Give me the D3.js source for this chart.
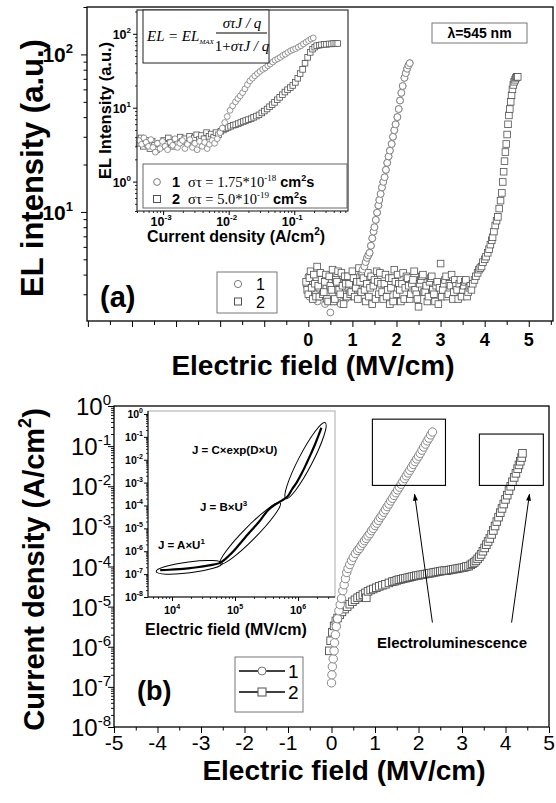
<!DOCTYPE html>
<html><head><meta charset="utf-8">
<script src="https://cdn.jsdelivr.net/npm/d3@7"></script>
<style>
body{margin:0;background:#fff;}
svg{display:block;font-family:"Liberation Sans",Arial,sans-serif;}
</style></head><body>
<svg id="chart" width="556" height="803"></svg>
<script>
// ================= DATA =================
// ---- panel (a): EL intensity vs electric field ----
const aFieldTicks = [0, 1, 2, 3, 4, 5];
const aElTicks = [10, 100];
const aElTickExp = ["1", "2"];
const aSeries1 = [ // circles: [field MV/cm, EL a.u.]
 [-0.04,3.4],[0.0,3.9],[0.02,2.9],[0.04,3.6],[0.07,3.1],[0.09,4.0],[0.11,2.8],[0.14,3.5],[0.16,3.0],[0.18,3.8],
 [0.21,2.7],[0.23,3.3],[0.26,4.1],[0.28,2.9],[0.31,3.5],[0.33,3.0],[0.36,3.7],[0.38,2.6],[0.41,3.3],[0.43,3.9],
 [0.46,2.8],[0.48,3.4],[0.5,2.3],[0.53,3.6],[0.55,3.0],[0.58,3.8],[0.6,2.7],[0.63,3.2],[0.65,4.0],[0.68,2.9],
 [0.7,3.5],[0.73,2.6],[0.75,3.4],[0.78,3.9],[0.8,3.0],[0.83,3.6],[0.85,2.8],[0.88,3.3],[0.9,3.8],[0.93,3.1],
 [0.95,3.6],[0.98,2.9],[1.0,3.4],[1.03,3.7],[1.05,3.2],[1.08,3.5],[1.1,3.3],[1.13,3.7],
 [1.16,3.9],[1.2,4.1],[1.23,4.3],[1.27,4.5],[1.3,4.8],[1.33,5.1],[1.36,5.3],[1.39,5.5],[1.42,6.1],[1.45,6.8],
 [1.48,7.5],[1.5,8.0],[1.53,8.9],[1.56,9.9],[1.59,11.0],[1.61,11.9],[1.64,13.0],[1.67,14.3],[1.7,15.5],[1.73,16.6],
 [1.76,18.5],[1.79,20.5],[1.82,22.5],[1.85,24.5],[1.89,27],[1.92,30],[1.95,33],[1.98,36],[2.02,40],[2.05,45],
 [2.08,51],[2.11,57],[2.14,63],[2.18,71],[2.21,76],[2.24,81],[2.27,85],[2.3,88]
];
const aSeries2 = [ // squares: [field MV/cm, EL a.u.]
 [-0.05,3.6],[-0.025,3.2],[0.0,3.0],[0.025,3.8],[0.05,4.2],[0.075,3.3],[0.1,2.8],[0.125,4.0],[0.15,3.5],[0.175,2.9],
 [0.2,4.5],[0.225,3.4],[0.25,2.9],[0.275,4.1],[0.3,3.7],[0.325,3.0],[0.35,3.1],[0.375,3.6],[0.4,4.0],[0.425,2.8],
 [0.45,2.7],[0.475,3.9],[0.5,3.4],[0.525,3.2],[0.55,4.3],[0.575,2.7],[0.6,2.8],[0.625,3.7],[0.65,3.6],[0.675,4.2],
 [0.7,3.2],[0.725,3.0],[0.75,4.1],[0.775,3.4],[0.8,2.6],[0.825,3.9],[0.85,3.5],[0.875,2.9],[0.9,3.9],[0.925,3.5],
 [0.95,3.0],[0.975,3.1],[1.0,4.2],[1.025,3.8],[1.05,2.9],[1.075,3.3],[1.1,3.6],[1.125,2.8],[1.15,4.4],[1.175,3.6],
 [1.2,3.1],[1.225,4.0],[1.25,3.8],[1.275,3.2],[1.3,2.7],[1.325,3.5],[1.35,4.1],[1.375,2.9],[1.4,3.3],[1.425,3.9],
 [1.45,2.6],[1.475,3.4],[1.5,3.7],[1.525,2.8],[1.55,4.2],[1.575,3.6],[1.6,3.0],[1.625,4.1],[1.65,3.5],[1.675,3.1],
 [1.7,2.8],[1.725,3.5],[1.75,4.0],[1.775,2.9],[1.8,3.2],[1.825,3.8],[1.85,2.6],[1.875,3.3],[1.9,3.8],[1.925,2.7],
 [1.95,4.3],[1.975,3.6],[2.0,3.0],[2.025,4.0],[2.05,3.5],[2.075,3.2],[2.1,2.7],[2.125,3.5],[2.15,4.1],[2.175,2.8],
 [2.2,3.3],[2.225,3.9],[2.25,3.8],[2.275,3.4],[2.3,2.8],[2.325,3.0],[2.35,3.5],[2.375,3.7],[2.4,4.2],[2.425,3.2],
 [2.45,3.0],[2.475,2.8],[2.5,2.5],[2.525,3.5],[2.55,3.7],[2.575,3.9],[2.6,4.0],[2.625,3.1],[2.65,3.1],[2.675,3.4],
 [2.7,2.7],[2.725,2.9],[2.75,3.6],[2.775,3.8],[2.8,3.9],[2.825,3.2],[2.85,3.0],[2.875,2.7],[2.9,3.4],[2.925,3.6],
 [2.95,2.6],[2.975,3.3],[3.0,4.7],[3.025,2.9],[3.05,3.2],[3.075,3.5],[3.1,3.7],[3.125,3.9],[3.15,2.9],[3.175,3.0],
 [3.2,3.5],[3.225,3.4],[3.25,4.0],[3.275,2.8],[3.3,3.1],[3.325,3.7],[3.35,3.4],[3.375,3.2],[3.4,2.8],[3.425,3.5],
 [3.45,3.7],[3.475,2.9],[3.5,3.2],[3.525,3.4],[3.55,3.6],[3.575,3.7],[3.6,2.9],[3.625,3.1],[3.65,3.3],[3.675,3.4],
 [3.7,3.2],[3.73,3.5],[3.77,3.7],[3.8,3.9],[3.84,4.1],[3.87,4.3],[3.9,4.4],[3.93,4.5],[3.96,4.8],[4.0,5.0],
 [4.03,5.2],[4.07,5.5],[4.1,5.8],[4.13,6.2],[4.16,6.6],[4.18,6.9],[4.21,7.5],[4.24,8.2],[4.27,8.8],[4.3,9.3],
 [4.33,10.5],[4.36,11.8],[4.39,13.2],[4.41,15.5],[4.43,18],[4.45,21],[4.47,24],[4.49,27],[4.51,31],[4.53,36],
 [4.55,41],[4.57,45],[4.59,50],[4.61,55],[4.63,60],[4.65,64],[4.67,67],[4.69,69],[4.71,71],[4.73,72],[4.75,72]
];
const aLegendLabels = ["1", "2"];
const aWavelength = "λ=545 nm";

// ---- inset (a): EL intensity vs current density ----
const aInsetJTicks = [1e-3, 1e-2, 1e-1];
const aInsetJTickExp = ["-3", "-2", "-1"];
const aInsetElTicks = [1, 10, 100];
const aInsetElTickExp = ["0", "1", "2"];
const aInset1 = [ // circles: [J A/cm2, EL]
 [4.3e-4,3.6],[4.7e-4,3.2],[5.1e-4,3.9],[5.5e-4,3.4],[6e-4,3.0],[6.5e-4,3.7],[7e-4,2.9],[7.6e-4,2.5],[8.2e-4,3.3],[9e-4,2.8],
 [9.8e-4,3.5],[1.07e-3,3.0],[1.17e-3,2.7],[1.28e-3,3.4],[1.4e-3,3.1],[1.52e-3,3.8],[1.66e-3,2.9],[1.8e-3,3.3],[1.97e-3,3.6],[2.15e-3,2.8],
 [2.35e-3,3.2],[2.56e-3,3.7],[2.8e-3,2.9],[3.05e-3,3.3],[3.3e-3,2.7],[3.6e-3,3.5],[3.95e-3,3.0],[4.3e-3,3.4],[4.7e-3,2.8],[5.1e-3,3.2],
 [5.6e-3,3.6],[6.1e-3,3.3],[6.7e-3,3.8],
 [7.4e-3,4.6],[8e-3,5.3],[8.7e-3,6.3],[9.5e-3,7.6],[1.05e-2,9.2],[1.15e-2,10.6],[1.27e-2,12],[1.38e-2,13.3],[1.5e-2,14.5],[1.63e-2,16],
 [1.77e-2,18],[1.93e-2,20.5],[2.1e-2,23],[2.3e-2,25],[2.5e-2,27],[2.75e-2,29],[3e-2,31],[3.3e-2,33],[3.6e-2,34.5],[3.95e-2,37],
 [4.3e-2,39],[4.7e-2,41.5],[5.1e-2,44],[5.6e-2,46],[6.1e-2,48],[6.7e-2,51],[7.3e-2,53],[8e-2,56],[8.8e-2,59],[9.6e-2,61],
 [0.105,63],[0.115,66],[0.126,69],[0.138,73],[0.151,77],[0.165,81],[0.18,85],[0.195,88]
];
const aInset2 = [ // squares: [J A/cm2, EL]
 [4.3e-4,3.3],[4.6e-4,3.9],[5e-4,3.0],[5.4e-4,3.6],[5.8e-4,3.2],[6.3e-4,2.8],[6.8e-4,3.5],[7.4e-4,3.1],[8e-4,2.7],[8.7e-4,3.3],
 [9.4e-4,3.0],[1.02e-3,3.6],[1.1e-3,3.2],[1.2e-3,3.9],[1.3e-3,3.4],[1.42e-3,3.0],[1.54e-3,3.7],[1.67e-3,3.3],[1.82e-3,4.0],[1.97e-3,3.5],
 [2.14e-3,3.8],[2.33e-3,3.3],[2.53e-3,4.1],[2.75e-3,3.6],[3e-3,3.9],[3.25e-3,4.3],[3.55e-3,3.7],[3.85e-3,4.2],[4.2e-3,3.8],[4.6e-3,4.6],
 [5e-3,4.1],[5.4e-3,4.4],[5.9e-3,4.0],[6.4e-3,4.6],[7e-3,4.3],[7.6e-3,4.8],
 [8.3e-3,5.0],[9e-3,5.2],[9.8e-3,5.4],[1.07e-2,5.6],[1.17e-2,5.8],[1.28e-2,5.9],[1.4e-2,6.1],[1.53e-2,6.3],[1.67e-2,6.5],[1.82e-2,6.7],
 [2e-2,6.9],[2.2e-2,7.1],[2.4e-2,7.4],[2.65e-2,7.7],[2.9e-2,8.0],[3.2e-2,8.5],[3.5e-2,9.0],[3.85e-2,9.6],[4.2e-2,10.3],[4.6e-2,11.0],
 [5e-2,11.8],[5.5e-2,12.8],[6e-2,13.8],[6.6e-2,15],[7.2e-2,16.3],[7.9e-2,17.5],[8.7e-2,18.7],[9.5e-2,20],[0.104,22],[0.113,25],
 [0.123,29],[0.134,33],[0.146,40],[0.16,48],[0.175,56],[0.19,62],[0.205,66],[0.22,69],[0.24,70],[0.26,71],
 [0.285,72],[0.31,72],[0.34,73],[0.37,73],[0.4,74],[0.43,74],[0.46,74]
];
const aInsetLegendNum = ["1", "2"];
const aInsetLegendSigma = ["1.75", "5.0"];
const aInsetLegendExp = ["-18", "-19"];

// ---- panel (b): current density vs electric field ----
const bFieldTicks = [-5, -4, -3, -2, -1, 0, 1, 2, 3, 4, 5];
const bJTicks = [1e0, 1e-1, 1e-2, 1e-3, 1e-4, 1e-5, 1e-6, 1e-7, 1e-8];
const bJTickExp = ["0", "-1", "-2", "-3", "-4", "-5", "-6", "-7", "-8"];
const bSeries1 = [ // circles: [field MV/cm, J A/cm2]
 [0.0,1.26e-7],[0.01,2.0e-7],[0.02,3.2e-7],[0.04,5.0e-7],[0.06,7.9e-7],[0.07,1.26e-6],[0.09,2.0e-6],[0.11,3.2e-6],[0.14,5.0e-6],[0.17,7.9e-6],
 [0.2,1.12e-5],[0.23,1.6e-5],[0.26,2.5e-5],[0.29,3.5e-5],[0.32,5.0e-5],[0.35,7.1e-5],[0.38,8.9e-5],[0.42,1.12e-4],[0.46,1.4e-4],[0.5,1.7e-4],
 [0.55,2.1e-4],[0.6,2.5e-4],[0.64,2.8e-4],[0.68,3.3e-4],[0.72,3.8e-4],[0.76,4.4e-4],[0.8,5.0e-4],[0.84,5.8e-4],[0.88,6.6e-4],[0.92,7.8e-4],
 [0.96,8.9e-4],[1.0,1.05e-3],[1.04,1.2e-3],[1.08,1.41e-3],[1.12,1.66e-3],[1.16,1.9e-3],[1.2,2.24e-3],[1.24,2.6e-3],[1.28,3.1e-3],[1.32,3.6e-3],
 [1.36,4.3e-3],[1.4,5.0e-3],[1.44,5.9e-3],[1.48,6.9e-3],[1.52,8.1e-3],[1.56,9.5e-3],[1.6,1.12e-2],[1.64,1.32e-2],[1.68,1.55e-2],[1.72,1.82e-2],
 [1.76,2.14e-2],[1.8,2.5e-2],[1.84,2.95e-2],[1.88,3.5e-2],[1.92,4.1e-2],[1.96,4.8e-2],[2.0,5.6e-2],[2.04,6.6e-2],[2.08,7.9e-2],[2.12,9.5e-2],
 [2.16,0.112],[2.2,0.135],[2.24,0.158],[2.28,0.19],[2.32,0.224]
];
const bSeries2 = [ // squares: [field MV/cm, J A/cm2]
 [-0.05,7.9e-7],[-0.02,1.41e-6],[0.02,2.3e-6],[0.06,3.3e-6],[0.1,4.4e-6],[0.14,5.2e-6],[0.19,6.3e-6],[0.24,7.4e-6],[0.3,8.7e-6],[0.36,1.0e-5],
 [0.42,1.15e-5],[0.48,1.32e-5],[0.54,1.48e-5],[0.6,1.66e-5],[0.66,1.82e-5],[0.72,2.0e-5],[0.78,2.2e-5],[0.8,1.66e-5],[0.84,2.4e-5],[0.9,2.6e-5],
 [0.96,2.75e-5],[1.03,2.95e-5],[1.1,3.2e-5],[1.17,3.4e-5],[1.24,3.6e-5],[1.32,3.9e-5],[1.4,4.2e-5],[1.45,4.3e-5],[1.5,4.5e-5],[1.55,4.7e-5],
 [1.6,4.8e-5],[1.65,5.0e-5],[1.7,5.1e-5],[1.75,5.25e-5],[1.8,5.4e-5],[1.85,5.6e-5],[1.9,5.75e-5],[1.95,5.9e-5],[2.0,6.0e-5],[2.05,6.2e-5],
 [2.1,6.3e-5],[2.15,6.45e-5],[2.2,6.6e-5],[2.25,6.75e-5],[2.3,6.9e-5],[2.35,7.1e-5],[2.4,7.25e-5],[2.45,7.4e-5],[2.5,7.6e-5],[2.55,7.8e-5],
 [2.6,7.9e-5],[2.65,7.9e-5],[2.7,8.1e-5],[2.75,8.3e-5],[2.8,8.5e-5],[2.85,8.7e-5],[2.9,8.9e-5],[2.95,9.1e-5],[3.0,9.3e-5],[3.05,9.5e-5],
 [3.1,1.0e-4],[3.15,1.02e-4],[3.2,1.1e-4],[3.24,1.17e-4],[3.28,1.26e-4],[3.32,1.38e-4],[3.36,1.55e-4],[3.4,1.74e-4],[3.44,2.0e-4],[3.48,2.4e-4],
 [3.52,2.9e-4],[3.56,3.5e-4],[3.6,4.2e-4],[3.64,5.0e-4],[3.68,6.3e-4],[3.72,7.9e-4],[3.76,1.02e-3],[3.8,1.32e-3],[3.84,1.7e-3],[3.88,2.2e-3],
 [3.92,2.8e-3],[3.96,3.6e-3],[4.0,4.7e-3],[4.04,6.0e-3],[4.08,7.8e-3],[4.12,1.0e-2],[4.16,1.29e-2],[4.2,1.66e-2],[4.24,2.1e-2],[4.28,2.75e-2],
 [4.31,3.4e-2],[4.34,4.2e-2],[4.37,5.2e-2],[4.39,6.6e-2]
];
const bBoxes = [ // highlighted EL regions: [field0, field1, Jlow, Jhigh]
 [0.94, 2.62, 1.05e-2, 0.47],
 [3.40, 4.87, 1.05e-2, 0.2]
];
const bArrows = [ // [field tail, J tail, field head, J head]
 [2.32, 4.0e-6, 1.91, 6.3e-3],
 [4.14, 4.0e-6, 4.55, 6.3e-3]
];
const bAnnotation = "Electroluminescence";
const bLegendLabels = ["1", "2"];

// ---- inset (b): log-log J vs E ----
const bInsetETicks = [1e4, 1e5, 1e6];
const bInsetETickExp = ["4", "5", "6"];
const bInsetJTicks = [1e0, 1e-1, 1e-2, 1e-3, 1e-4, 1e-5, 1e-6, 1e-7, 1e-8];
const bInsetJTickExp = ["0", "-1", "-2", "-3", "-4", "-5", "-6", "-7", "-8"];
const bInsetCurve = [ // [E V/cm, J A/cm2]
 [6.5e3,1.5e-7],[9e3,1.55e-7],[1.3e4,1.65e-7],[1.8e4,1.8e-7],[2.5e4,2.0e-7],[3.5e4,2.3e-7],[4.5e4,2.6e-7],[5.8e4,3.1e-7],
 [7e4,4.5e-7],[8.5e4,7.5e-7],[1.05e5,1.4e-6],[1.3e5,2.8e-6],[1.6e5,5.5e-6],[2e5,1.1e-5],[2.5e5,2.2e-5],[3.2e5,5.5e-5],
 [4e5,9.5e-5],[5e5,1.4e-4],[6e5,1.9e-4],[7e5,2.7e-4],[8e5,5e-4],[9.5e5,1.0e-3],[1.15e6,2.6e-3],[1.35e6,6.5e-3],
 [1.6e6,1.8e-2],[1.85e6,4.5e-2],[2.1e6,0.11],[2.35e6,0.25]
];
const bInsetEllipses = [ // [E0, J0, E1, J1]
 [5.6e3, 1.3e-7, 6.3e4, 3.0e-7],
 [5.8e4, 2.8e-7, 5.2e5, 1.3e-4],
 [6.4e5, 2.0e-4, 2.7e6, 0.42]
];
const bInsetFormulas = ["J = C×exp(D×U)", "J = B×U", "J = A×U"];
const bInsetFormulaExp = ["", "3", "1"];

// ================= DRAWING =================
const svg = d3.select("#chart");
const MK1 = "#7a7a7a", MK2 = "#505050";

function ticks(parent, fn, scale, vals, size, tx, ty, sw) {
  const g = parent.append("g").attr("transform", `translate(${tx},${ty})`)
    .call(fn(scale).tickValues(vals).tickSize(size).tickFormat(""));
  g.select(".domain").remove();
  g.selectAll(".tick line").attr("stroke", "#000").attr("stroke-width", sw || 1);
  return g;
}
function pow10(parent, x, y, exp, o) {
  const t = parent.append("text").attr("x", x).attr("y", y).attr("text-anchor", o.anchor)
    .attr("font-size", o.size).attr("font-weight", o.weight || "normal").attr("fill", "#000");
  t.append("tspan").text("10");
  t.append("tspan").attr("font-size", o.sup).attr("dy", -o.raise).text(exp);
  return t;
}
function logSplit(scale) {
  const all = scale.ticks().filter(v => v >= scale.domain()[0] * 0.999 && v <= scale.domain()[1] * 1.001);
  const major = all.filter(v => Math.abs(Math.log10(v) - Math.round(Math.log10(v))) < 1e-9);
  const minor = all.filter(v => !major.includes(v));
  return {major, minor};
}
function drawCircles(g, data, xs, ys, r, stroke, sw) {
  g.append("g").selectAll("circle").data(data).join("circle")
    .attr("cx", d => xs(d[0])).attr("cy", d => ys(d[1])).attr("r", r)
    .attr("fill", "#fff").attr("stroke", stroke).attr("stroke-width", sw);
}
function drawSquares(g, data, xs, ys, s, stroke, sw) {
  g.append("g").selectAll("rect").data(data).join("rect")
    .attr("x", d => xs(d[0]) - s / 2).attr("y", d => ys(d[1]) - s / 2).attr("width", s).attr("height", s)
    .attr("fill", "#fff").attr("stroke", stroke).attr("stroke-width", sw);
}

// ---------- Panel (a) ----------
const A = {l: 87, r: 553, t: 7, b: 321};
const xA = d3.scaleLinear().domain([-5.02, 5.55]).range([A.l, A.r]);
const yA = d3.scaleLog().domain([2.03, 200]).range([A.b, A.t]);
const gA = svg.append("g");

drawCircles(gA, aSeries1, xA, yA, 3.4, MK1, 0.9);
drawSquares(gA, aSeries2, xA, yA, 6.6, MK2, 0.8);
drawCircles(gA, aSeries1.filter(d => d[1] > 4.2), xA, yA, 3.4, MK1, 0.9);

gA.append("rect").attr("x", A.l).attr("y", A.t).attr("width", A.r - A.l).attr("height", A.b - A.t)
  .attr("fill", "none").attr("stroke", "#000").attr("stroke-width", 1.3);
const aMinorX = d3.range(-5, 5.51, 0.5).filter(v => !Number.isInteger(v));
ticks(gA, d3.axisBottom, xA, d3.range(-5, 6, 1), 6, 0, A.b);
ticks(gA, d3.axisBottom, xA, aMinorX, 4, 0, A.b);
gA.append("g").selectAll("text").data(aFieldTicks).join("text")
  .attr("x", d => xA(d)).attr("y", 346).attr("text-anchor", "middle")
  .attr("font-size", 18).attr("font-weight", "bold").text(d => d);
const aLog = logSplit(yA);
ticks(gA, d3.axisLeft, yA, aLog.major, 6, A.l, 0);
ticks(gA, d3.axisLeft, yA, aLog.minor, 3.5, A.l, 0);
aElTicks.forEach((v, i) => pow10(gA, 73, yA(v) + 8, aElTickExp[i], {anchor: "end", size: 21, sup: 13, raise: 9, weight: "bold"}));
gA.append("text").attr("transform", `translate(43,${(A.t + A.b) / 2 + 4}) rotate(-90)`)
  .attr("text-anchor", "middle").attr("font-size", 31).attr("font-weight", "bold").text("EL intensity (a.u.)");
gA.append("text").attr("x", 313).attr("y", 375).attr("text-anchor", "middle")
  .attr("font-size", 28).attr("font-weight", "bold").text("Electric field (MV/cm)");
gA.append("text").attr("x", 100).attr("y", 307).attr("font-size", 29).attr("font-weight", "bold").text("(a)");
// legend (a)
gA.append("rect").attr("x", 217).attr("y", 272).attr("width", 60).attr("height", 41)
  .attr("fill", "#fff").attr("stroke", "#777").attr("stroke-width", 1);
gA.append("circle").attr("cx", 238).attr("cy", 284).attr("r", 3.6).attr("fill", "#fff").attr("stroke", MK1).attr("stroke-width", 1);
gA.append("rect").attr("x", 234.5).attr("y", 298).attr("width", 7).attr("height", 7).attr("fill", "#fff").attr("stroke", MK2).attr("stroke-width", 1);
aLegendLabels.forEach((s, i) => gA.append("text").attr("x", 256).attr("y", 290 + i * 18)
  .attr("font-size", 16).text(s));
// wavelength box
gA.append("rect").attr("x", 432).attr("y", 23).attr("width", 95).attr("height", 20)
  .attr("fill", "#fff").attr("stroke", "#777").attr("stroke-width", 1);
gA.append("text").attr("x", 479.5).attr("y", 38).attr("text-anchor", "middle")
  .attr("font-size", 14).attr("font-weight", "bold").text(aWavelength);

// ---------- Inset (a) ----------
const AI = {l: 137, r: 348, t: 10, b: 211};
const xAI = d3.scaleLog().domain([4.0e-4, 0.66]).range([AI.l, AI.r]);
const yAI = d3.scaleLog().domain([0.4, 210]).range([AI.b, AI.t]);
const gAI = svg.append("g");
gAI.append("rect").attr("x", AI.l).attr("y", AI.t).attr("width", AI.r - AI.l).attr("height", AI.b - AI.t)
  .attr("fill", "#fff").attr("stroke", "none");
drawSquares(gAI, aInset2, xAI, yAI, 5.6, MK2, 0.8);
drawCircles(gAI, aInset1, xAI, yAI, 2.9, MK1, 0.8);
gAI.append("rect").attr("x", AI.l).attr("y", AI.t).attr("width", AI.r - AI.l).attr("height", AI.b - AI.t)
  .attr("fill", "none").attr("stroke", "#222").attr("stroke-width", 1.1);
const aiX = logSplit(xAI), aiY = logSplit(yAI);
ticks(gAI, d3.axisBottom, xAI, aiX.major, 4, 0, AI.b);
ticks(gAI, d3.axisBottom, xAI, aiX.minor, 2, 0, AI.b, 0.8);
ticks(gAI, d3.axisLeft, yAI, aiY.major, 4, AI.l, 0);
ticks(gAI, d3.axisLeft, yAI, aiY.minor, 2, AI.l, 0, 0.8);
aInsetJTicks.forEach((v, i) => pow10(gAI, xAI(v) - 2, 226, aInsetJTickExp[i], {anchor: "middle", size: 12.5, sup: 8, raise: 6, weight: "bold"}));
aInsetElTicks.forEach((v, i) => pow10(gAI, 131, yAI(v) + 5, aInsetElTickExp[i], {anchor: "end", size: 12.5, sup: 8, raise: 6, weight: "bold"}));
{
  const t = gAI.append("text").attr("x", 236).attr("y", 242).attr("text-anchor", "middle")
    .attr("font-size", 16).attr("font-weight", "bold");
  t.append("tspan").text("Current density (A/cm");
  t.append("tspan").attr("font-size", 10).attr("dy", -7).text("2");
  t.append("tspan").attr("dy", 7).text(")");
}
gAI.append("text").attr("transform", `translate(111,${(AI.t + AI.b) / 2}) rotate(-90)`)
  .attr("text-anchor", "middle").attr("font-size", 16.5).attr("font-weight", "bold").text("EL Intensity (a.u.)");
// formula box
gAI.append("rect").attr("x", 143).attr("y", 10).attr("width", 126).attr("height", 53)
  .attr("fill", "#fff").attr("stroke", "#222").attr("stroke-width", 1);
{
  const f = gAI.append("g").attr("font-family", "'Liberation Serif','Times New Roman',serif").attr("font-style", "italic");
  const t = f.append("text").attr("x", 147).attr("y", 41).attr("font-size", 15);
  t.append("tspan").text("EL = EL");
  t.append("tspan").attr("font-size", 7).attr("dy", 3).text("MAX");
  f.append("text").attr("x", 242).attr("y", 28).attr("text-anchor", "middle").attr("font-size", 15).text("στJ / q");
  f.append("line").attr("x1", 216).attr("x2", 267).attr("y1", 33).attr("y2", 33).attr("stroke", "#000").attr("stroke-width", 1);
  const d = f.append("text").attr("x", 242).attr("y", 51).attr("text-anchor", "middle").attr("font-size", 15);
  d.append("tspan").attr("font-style", "normal").text("1+");
  d.append("tspan").text("στJ / q");
}
// inset legend
gAI.append("rect").attr("x", 143).attr("y", 164).attr("width", 204).attr("height", 44)
  .attr("fill", "#fff").attr("stroke", "#666").attr("stroke-width", 1);
aInsetLegendNum.forEach((n, i) => {
  const y = 187 + i * 17;
  if (i === 0) gAI.append("circle").attr("cx", 157).attr("cy", y - 5).attr("r", 3.4).attr("fill", "#fff").attr("stroke", MK1);
  else gAI.append("rect").attr("x", 153.5).attr("y", y - 8.5).attr("width", 7).attr("height", 7).attr("fill", "#fff").attr("stroke", MK2);
  const t = gAI.append("text").attr("x", 172).attr("y", y).attr("font-size", 14.5);
  t.append("tspan").attr("font-weight", "bold").text(n);
  t.append("tspan").attr("font-family", "'Liberation Serif',serif").attr("dx", 8).text("στ = " + aInsetLegendSigma[i] + "*10");
  t.append("tspan").attr("font-family", "'Liberation Serif',serif").attr("font-size", 9).attr("dy", -6).text(aInsetLegendExp[i]);
  t.append("tspan").attr("font-weight", "bold").attr("dy", 6).attr("dx", 4).text("cm");
  t.append("tspan").attr("font-weight", "bold").attr("font-size", 9).attr("dy", -6).text("2");
  t.append("tspan").attr("font-weight", "bold").attr("dy", 6).text("s");
});

// ---------- Panel (b) ----------
const B = {l: 114, r: 549, t: 406, b: 727};
const xB = d3.scaleLinear().domain([-5, 5]).range([B.l, B.r]);
const yB = d3.scaleLog().domain([1e-8, 1]).range([B.b, B.t]);
const gB = svg.append("g");
gB.append("rect").attr("x", B.l).attr("y", B.t).attr("width", B.r - B.l).attr("height", B.b - B.t)
  .attr("fill", "none").attr("stroke", "#000").attr("stroke-width", 1.3);
ticks(gB, d3.axisBottom, xB, bFieldTicks, 6, 0, B.b);
ticks(gB, d3.axisBottom, xB, d3.range(-4.5, 5, 1), 3.5, 0, B.b);
gB.append("g").selectAll("text").data(bFieldTicks).join("text")
  .attr("x", d => xB(d)).attr("y", 750).attr("text-anchor", "middle")
  .attr("font-size", 21).text(d => d < 0 ? "-" + Math.abs(d) : d);
const bLog = logSplit(yB);
ticks(gB, d3.axisLeft, yB, bLog.major, 6, B.l, 0);
ticks(gB, d3.axisLeft, yB, bLog.minor, 3, B.l, 0, 0.9);
bJTicks.forEach((v, i) => pow10(gB, 111, yB(v) + 9, bJTickExp[i], {anchor: "end", size: 24, sup: 15, raise: 10}));
{
  const t = gB.append("text").attr("transform", `translate(44,${(B.t + B.b) / 2 + 3}) rotate(-90)`)
    .attr("text-anchor", "middle").attr("font-size", 29).attr("font-weight", "bold");
  t.append("tspan").text("Current density (A/cm");
  t.append("tspan").attr("font-size", 18).attr("dy", -13).text("2");
  t.append("tspan").attr("dy", 13).text(")");
}
gB.append("text").attr("x", 344).attr("y", 780).attr("text-anchor", "middle")
  .attr("font-size", 28).attr("font-weight", "bold").text("Electric field (MV/cm)");
gB.append("text").attr("x", 137).attr("y", 700).attr("font-size", 27).attr("font-weight", "bold").text("(b)");

drawSquares(gB, bSeries2, xB, yB, 7.6, MK2, 0.9);
drawCircles(gB, bSeries1, xB, yB, 4.2, MK1, 0.9);
gB.append("g").selectAll("rect").data(bBoxes).join("rect")
  .attr("x", d => xB(d[0])).attr("y", d => yB(d[3])).attr("width", d => xB(d[1]) - xB(d[0]))
  .attr("height", d => yB(d[2]) - yB(d[3])).attr("fill", "none").attr("stroke", "#000").attr("stroke-width", 1.1);
const defs = svg.append("defs");
defs.append("marker").attr("id", "ah").attr("viewBox", "0 0 10 10").attr("refX", 9).attr("refY", 5)
  .attr("markerWidth", 9).attr("markerHeight", 7).attr("markerUnits", "userSpaceOnUse").attr("orient", "auto")
  .append("path").attr("d", "M0,1.5 L10,5 L0,8.5 Z").attr("fill", "#000");
gB.append("g").selectAll("line").data(bArrows).join("line")
  .attr("x1", d => xB(d[0])).attr("y1", d => yB(d[1])).attr("x2", d => xB(d[2])).attr("y2", d => yB(d[3]))
  .attr("stroke", "#000").attr("stroke-width", 1).attr("marker-end", "url(#ah)");
gB.append("text").attr("x", 452).attr("y", 648).attr("text-anchor", "middle")
  .attr("font-size", 15).attr("font-weight", "bold").text(bAnnotation);
// legend (b)
gB.append("rect").attr("x", 235).attr("y", 657).attr("width", 68).attr("height", 55)
  .attr("fill", "#fff").attr("stroke", "#777").attr("stroke-width", 1);
bLegendLabels.forEach((s, i) => {
  const y = 671 + i * 21;
  gB.append("line").attr("x1", 239).attr("x2", 285).attr("y1", y).attr("y2", y).attr("stroke", "#000").attr("stroke-width", 1.5);
  if (i === 0) gB.append("circle").attr("cx", 262).attr("cy", y).attr("r", 4).attr("fill", "#fff").attr("stroke", MK1);
  else gB.append("rect").attr("x", 258).attr("y", y - 4).attr("width", 8).attr("height", 8).attr("fill", "#fff").attr("stroke", MK2);
  gB.append("text").attr("x", 288).attr("y", y + 7).attr("font-size", 19).text(s);
});

// ---------- Inset (b) ----------
const BI = {l: 148, r: 335, t: 411, b: 597};
const xBI = d3.scaleLog().domain([4160, 3.86e6]).range([BI.l, BI.r]);
const yBI = d3.scaleLog().domain([1e-8, 1.35]).range([BI.b, BI.t]);
const gBI = svg.append("g");
gBI.append("rect").attr("x", BI.l).attr("y", BI.t).attr("width", BI.r - BI.l).attr("height", BI.b - BI.t)
  .attr("fill", "#fff").attr("stroke", "#aaa").attr("stroke-width", 1);
gBI.append("line").attr("x1", BI.l).attr("x2", BI.l).attr("y1", BI.t).attr("y2", BI.b).attr("stroke", "#000");
gBI.append("line").attr("x1", BI.l).attr("x2", BI.r).attr("y1", BI.b).attr("y2", BI.b).attr("stroke", "#000");
const biX = logSplit(xBI), biY = logSplit(yBI);
ticks(gBI, d3.axisBottom, xBI, biX.major, 4, 0, BI.b);
ticks(gBI, d3.axisBottom, xBI, biX.minor, 2, 0, BI.b, 0.8);
ticks(gBI, d3.axisLeft, yBI, biY.major, 4, BI.l, 0);
ticks(gBI, d3.axisLeft, yBI, biY.minor, 2, BI.l, 0, 0.8);
bInsetETicks.forEach((v, i) => pow10(gBI, xBI(v), 614, bInsetETickExp[i], {anchor: "middle", size: 11, sup: 7, raise: 5, weight: "bold"}));
bInsetJTicks.forEach((v, i) => pow10(gBI, 143, yBI(v) + 4, bInsetJTickExp[i], {anchor: "end", size: 10.5, sup: 7, raise: 5, weight: "bold"}));
gBI.append("text").attr("x", 226).attr("y", 635).attr("text-anchor", "middle")
  .attr("font-size", 16).attr("font-weight", "bold").text("Electric field (MV/cm)");
gBI.append("path").datum(bInsetCurve)
  .attr("d", d3.line().x(d => xBI(d[0])).y(d => yBI(d[1])).curve(d3.curveMonotoneX))
  .attr("fill", "none").attr("stroke", "#000").attr("stroke-width", 2.2);
const ellW = [5.5, 6.5, 7];
bInsetEllipses.forEach((e, i) => {
  const x0 = xBI(e[0]), y0 = yBI(e[1]), x1 = xBI(e[2]), y1 = yBI(e[3]);
  const cx = (x0 + x1) / 2, cy = (y0 + y1) / 2;
  const rx = Math.hypot(x1 - x0, y1 - y0) / 2;
  const ang = Math.atan2(y1 - y0, x1 - x0) * 180 / Math.PI;
  gBI.append("ellipse").attr("cx", 0).attr("cy", 0).attr("rx", rx).attr("ry", ellW[i])
    .attr("transform", `translate(${cx},${cy}) rotate(${ang})`)
    .attr("fill", "none").attr("stroke", "#000").attr("stroke-width", 1);
});
const fPos = [[192, 454], [200, 511], [158, 549]];
bInsetFormulas.forEach((s, i) => {
  const t = gBI.append("text").attr("x", fPos[i][0]).attr("y", fPos[i][1]).attr("font-size", 11.5).attr("font-weight", "bold");
  t.append("tspan").text(s);
  if (bInsetFormulaExp[i]) t.append("tspan").attr("font-size", 8).attr("dy", -5).text(bInsetFormulaExp[i]);
});
</script>
</body></html>
